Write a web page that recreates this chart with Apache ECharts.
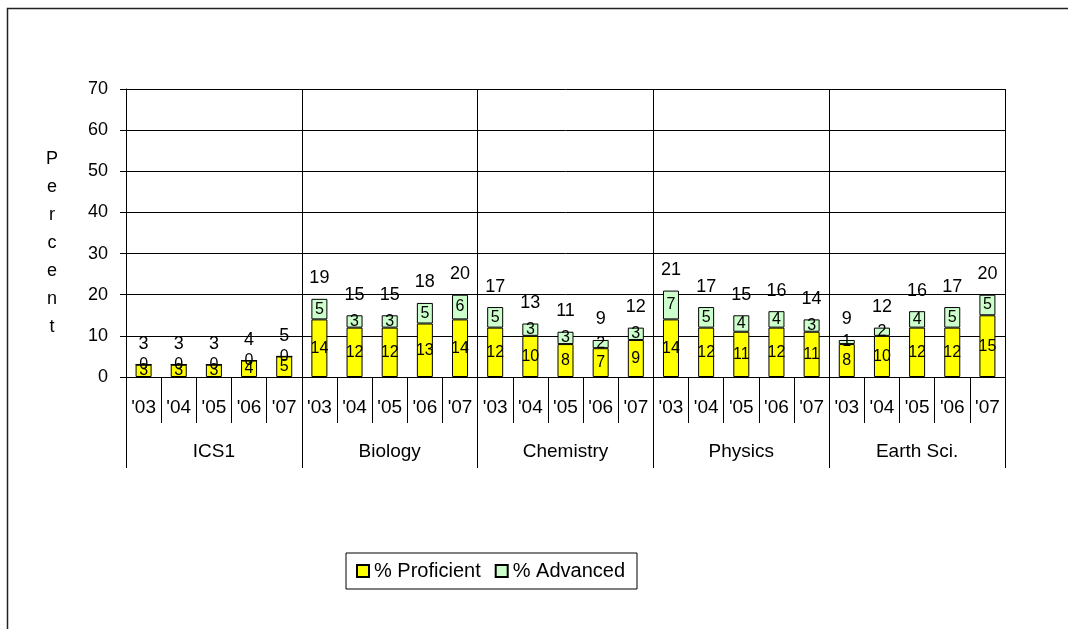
<!DOCTYPE html>
<html>
<head>
<meta charset="utf-8">
<title>Percent Proficient / Advanced</title>
<script src="https://cdn.jsdelivr.net/npm/echarts@6/dist/echarts.min.js"></script>
<style>
  html, body { margin: 0; padding: 0; background: #fff; }
  #chart { width: 1068px; height: 629px; }
</style>
</head>
<body>
<div id="chart"></div>
<script>
'use strict';
const subjects = ['ICS1', 'Biology', 'Chemistry', 'Physics', 'Earth Sci.'];
const years = ["'03", "'04", "'05", "'06", "'07"];
// % Proficient, per subject, '03..'07
const proficient = [
    3, 3, 3, 4, 5,
    14, 12, 12, 13, 14,
    12, 10, 8, 7, 9,
    14, 12, 11, 12, 11,
    8, 10, 12, 12, 15,
];
// % Advanced
const advanced = [
    0, 0, 0, 0, 0,
    5, 3, 3, 5, 6,
    5, 3, 3, 2, 3,
    7, 5, 4, 4, 3,
    1, 2, 4, 5, 5,
];
// totals printed above the bars
const totals = [
    3, 3, 3, 4, 5,
    19, 15, 15, 18, 20,
    17, 13, 11, 9, 12,
    21, 17, 15, 16, 14,
    9, 12, 16, 17, 20,
];
const yTicks = [0, 10, 20, 30, 40, 50, 60, 70];

const FONT = "'Liberation Sans', Arial, sans-serif";

function init() {
    const el = document.getElementById('chart');
    // one category per subject/year pair, label shows only the year
    const cats = [];
    subjects.forEach((s) => years.forEach((y) => cats.push(s + '|' + y)));

    const option = {
        animation: false,
        backgroundColor: '#fff',
        textStyle: { fontFamily: FONT },
        grid: {
            left: 126,
            right: 63,
            top: 89,
            bottom: 252,
            outerBoundsMode: 'none',
        },
        legend: {
            data: ['% Proficient', '% Advanced'],
            left: 346,
            top: 553,
            padding: [8, 12, 8, 10],
            borderColor: '#000',
            borderWidth: 1,
            itemWidth: 12,
            itemHeight: 12,
            itemGap: 14,
            icon: 'rect',
            textStyle: { fontFamily: FONT, fontSize: 20, color: '#000' },
        },
        xAxis: [
            {
                type: 'category',
                data: cats,
                position: 'bottom',
                axisLine: { lineStyle: { color: '#000', width: 1 } },
                axisTick: { show: true, length: 46, interval: 0, lineStyle: { color: '#000' } },
                axisLabel: {
                    interval: 0,
                    margin: 21,
                    fontSize: 19,
                    color: '#000',
                    fontFamily: FONT,
                    formatter: (v) => v.split('|')[1],
                },
                splitLine: { show: false },
            },
            {
                type: 'category',
                data: subjects,
                position: 'bottom',
                axisLine: { show: false },
                axisTick: { show: true, length: 91, interval: 0, lineStyle: { color: '#000' } },
                axisLabel: { interval: 0, margin: 65, fontSize: 19, color: '#000', fontFamily: FONT },
                splitLine: { show: true, interval: 0, lineStyle: { color: '#000', width: 1 } },
            },
        ],
        yAxis: {
            type: 'value',
            min: yTicks[0],
            max: yTicks[yTicks.length - 1],
            interval: 10,
            axisLine: { show: true, lineStyle: { color: '#000' } },
            axisTick: { show: true, length: 6, lineStyle: { color: '#000' } },
            axisLabel: { margin: 18, fontSize: 18, color: '#000', fontFamily: FONT },
            splitLine: { show: true, lineStyle: { color: '#000', width: 1 } },
        },
        graphic: [
            {
                type: 'rect',
                silent: true,
                shape: { x: 7.5, y: 8.5, width: 1200, height: 800 },
                style: { fill: null, stroke: '#222', lineWidth: 1.5 },
            },
            {
                type: 'text',
                silent: true,
                x: 52,
                y: 243,
                style: {
                    text: 'Percent'.split('').join('\n'),
                    font: '18px ' + FONT,
                    fill: '#000',
                    align: 'center',
                    verticalAlign: 'middle',
                    lineHeight: 28,
                },
            },
        ],
        series: [
            {
                name: '% Proficient',
                type: 'bar',
                stack: 'a',
                xAxisIndex: 0,
                barWidth: 16,
                data: proficient,
                itemStyle: { color: '#FFFF00', borderColor: '#000', borderWidth: 1 },
                label: { show: true, position: 'inside', fontSize: 16, color: '#000', fontFamily: FONT },
            },
            {
                name: '% Advanced',
                type: 'bar',
                stack: 'a',
                xAxisIndex: 0,
                barWidth: 16,
                data: advanced,
                itemStyle: { color: '#CCFFCC', borderColor: '#000', borderWidth: 1 },
                label: { show: true, position: 'inside', fontSize: 16, color: '#000', fontFamily: FONT },
            },
            {
                name: 'Total',
                type: 'scatter',
                xAxisIndex: 0,
                data: totals,
                symbolSize: 1,
                itemStyle: { color: 'rgba(0,0,0,0)', opacity: 1 },
                label: {
                    show: true,
                    position: 'top',
                    distance: 11,
                    fontSize: 18,
                    color: '#000',
                    opacity: 1,
                    fontFamily: FONT,
                },
                z: 5,
            },
        ],
    };
    const chart = echarts.init(el, null, { renderer: 'canvas' });
    chart.setOption(option);
    window.addEventListener('resize', () => chart.resize());
}

(function () {
    init();
})();
</script>
</body>
</html>
